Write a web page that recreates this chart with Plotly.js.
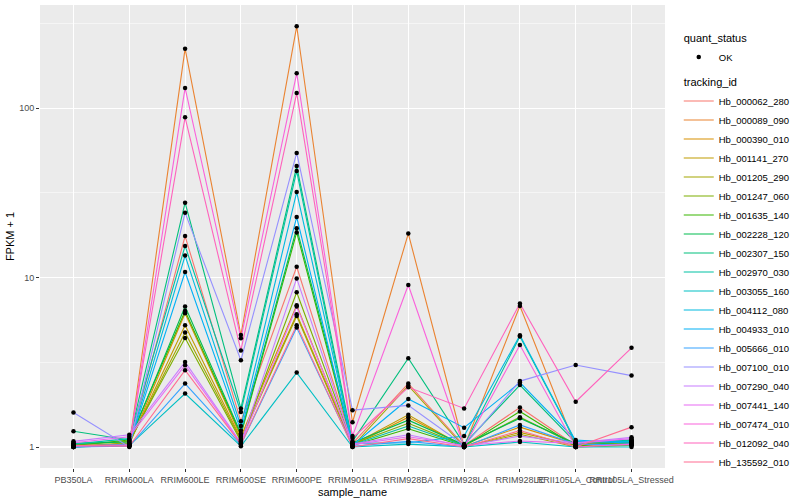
<!DOCTYPE html>
<html>
<head>
<meta charset="utf-8">
<script src="https://cdn.plot.ly/plotly-3.0.1.min.js"></script>
<style>html,body{margin:0;padding:0;background:#fff;}#chart{width:800px;height:500px;}</style>
</head>
<body>
<div id="chart"></div>
<script>
const samples = ["PB350LA","RRIM600LA","RRIM600LE","RRIM600SE","RRIM600PE","RRIM901LA","RRIM928BA","RRIM928LA","RRIM928LE","RRII105LA_Control","RRII105LA_Stressed"];
const trackingIds = ["Hb_000062_280","Hb_000089_090","Hb_000390_010","Hb_001141_270","Hb_001205_290","Hb_001247_060","Hb_001635_140","Hb_002228_120","Hb_002307_150","Hb_002970_030","Hb_003055_160","Hb_004112_080","Hb_004933_010","Hb_005666_010","Hb_007100_010","Hb_007290_040","Hb_007441_140","Hb_007474_010","Hb_012092_040","Hb_135592_010"];
const colors = ["#F8766D","#EA8331","#D89000","#C09B00","#A3A500","#7CAE00","#39B600","#00BB4E","#00BF7D","#00C1A3","#00BFC4","#00BAE0","#00B0F6","#35A2FF","#9590FF","#C77CFF","#E76BF3","#FA62DB","#FF62BC","#FF6C91"];

const Hb_000062_280 = [1.01,1.03,17.6,1.42,11.6,1.05,2.37,1.02,1.71,1.02,1.05];
const Hb_000089_090 = [1.0,1.02,225,4.58,305,1.4,18.2,1.0,6.8,1.0,1.03];
const Hb_000390_010 = [1.02,1.04,6.16,1.15,6.87,1.02,1.5,1.01,1.31,1.04,1.07];
const Hb_001141_270 = [1.0,1.05,5.23,1.12,6.08,1.03,1.55,1.0,1.22,1.02,1.04];
const Hb_001205_290 = [1.01,1.06,4.74,1.1,5.93,1.01,2.3,1.0,1.19,1.0,1.02];
const Hb_001247_060 = [1.03,1.08,4.4,1.08,8.2,1.04,1.38,1.02,1.5,1.03,1.06];
const Hb_001635_140 = [1.02,1.1,6.35,1.18,18.5,1.02,1.28,1.01,1.62,1.01,1.09];
const Hb_002228_120 = [1.05,1.07,6.75,1.2,19.6,1.06,1.44,1.03,1.48,1.05,1.1];
const Hb_002307_150 = [1.24,1.1,27.7,1.69,45.6,1.08,3.34,1.04,2.32,1.06,1.06];
const Hb_002970_030 = [1.04,1.12,15.4,1.61,42.6,1.03,1.33,1.02,4.49,1.07,1.1];
const Hb_003055_160 = [1.0,1.02,2.07,1.01,2.75,1.0,1.04,1.0,1.07,1.0,1.0];
const Hb_004112_080 = [1.01,1.04,13.5,1.33,32,1.05,1.06,1.16,4.57,1.08,1.08];
const Hb_004933_010 = [1.0,1.03,10.8,1.25,22.8,1.02,1.92,1.3,2.4,1.1,1.05];
const Hb_005666_010 = [1.0,1.01,2.37,1.03,5.07,1.01,1.08,1.0,1.35,1.04,1.03];
const Hb_007100_010 = [1.6,1.0,24.2,3.25,54.5,1.65,1.76,1.02,2.45,3.05,2.64];
const Hb_007290_040 = [1.08,1.18,3.18,1.06,9.9,1.04,1.18,1.01,1.16,1.06,1.14];
const Hb_007441_140 = [1.06,1.15,3.04,1.05,6.75,1.03,1.15,1.02,1.085,1.05,1.12];
const Hb_007474_010 = [1.01,1.02,132,4.38,161,1.16,9.05,1.0,4.0,1.0,1.04];
const Hb_012092_040 = [1.02,1.03,88.5,3.72,123,1.13,2.25,1.69,7.03,1.85,3.85];
const Hb_135592_010 = [1.02,1.01,2.84,1.04,5.23,1.0,1.12,1.0,1.25,1.0,1.31];

const seriesValues = [Hb_000062_280,Hb_000089_090,Hb_000390_010,Hb_001141_270,Hb_001205_290,Hb_001247_060,Hb_001635_140,Hb_002228_120,Hb_002307_150,Hb_002970_030,Hb_003055_160,Hb_004112_080,Hb_004933_010,Hb_005666_010,Hb_007100_010,Hb_007290_040,Hb_007441_140,Hb_007474_010,Hb_012092_040,Hb_135592_010];

const FONT = "Liberation Sans, Arial, sans-serif";
const traces = [];
trackingIds.forEach((id, i) => {
  traces.push({
    type: "scatter", mode: "lines", x: samples, y: seriesValues[i], name: id,
    line: {color: colors[i], width: 1.1},
    legendgroup: "tid", legendrank: 100 + i,
    legendgrouptitle: i === 0 ? {text: "tracking_id", font: {size: 11, color: "#000", family: FONT}} : undefined,
    hoverinfo: "x+y+name"
  });
});
const px = [], py = [];
seriesValues.forEach(v => v.forEach((val, j) => { px.push(samples[j]); py.push(val); }));
traces.push({
  type: "scatter", mode: "markers", x: px, y: py, name: "OK",
  marker: {color: "#000", size: 4.5},
  legendgroup: "qs", legendrank: 1,
  legendgrouptitle: {text: "quant_status", font: {size: 11, color: "#000", family: FONT}}
});

const layout = {
  width: 800, height: 500,
  paper_bgcolor: "#fff", plot_bgcolor: "#EBEBEB",
  margin: {l: 40, r: 116, t: 5, b: 32},
  font: {family: FONT, size: 9, color: "#4D4D4D"},
  showlegend: true,
  legend: {x: 1.022, xanchor: "left", y: 0.96, yanchor: "top", traceorder: "grouped",
           tracegroupgap: 6, font: {size: 9.5, color: "#000", family: FONT}, bgcolor: "rgba(0,0,0,0)"},
  xaxis: {
    type: "category", categoryorder: "array", categoryarray: samples,
    range: [-0.6, 10.6], tickangle: 0,
    showgrid: true, gridcolor: "#fff", gridwidth: 1.1,
    ticks: "outside", ticklen: 3, tickcolor: "#333", tickwidth: 1,
    tickfont: {size: 9, color: "#4D4D4D"},
    zeroline: false, showline: false,
    title: {text: "sample_name", font: {size: 11, color: "#000"}, standoff: 4}
  },
  yaxis: {
    type: "log", range: [-0.124, 2.61],
    tickvals: [1, 10, 100], ticktext: ["1", "10", "100"],
    showgrid: true, gridcolor: "#fff", gridwidth: 1.1,
    minor: {tickvals: [3.1623, 31.623, 316.23], showgrid: true, gridcolor: "#fff", gridwidth: 0.5, ticks: ""},
    ticks: "outside", ticklen: 3, tickcolor: "#333", tickwidth: 1,
    tickfont: {size: 9, color: "#4D4D4D"},
    zeroline: false, showline: false,
    title: {text: "FPKM + 1", font: {size: 11, color: "#000"}, standoff: 2}
  }
};
Plotly.newPlot("chart", traces, layout, {displayModeBar: false, staticPlot: true});
</script>
</body>
</html>
